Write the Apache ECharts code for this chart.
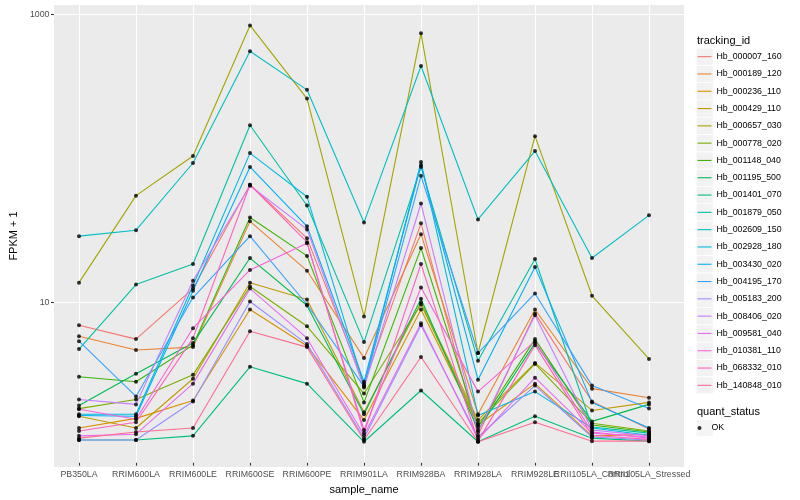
<!DOCTYPE html>
<html><head><meta charset="utf-8">
<script src="https://cdn.jsdelivr.net/npm/echarts@6/dist/echarts.min.js"></script>
<style>html,body{margin:0;padding:0;background:#fff}#c{width:800px;height:500px}</style>
</head><body><div id="c"></div>
<script>
// ---- data ----
const categories = ['PB350LA','RRIM600LA','RRIM600LE','RRIM600SE','RRIM600PE','RRIM901LA','RRIM928BA','RRIM928LA','RRIM928LE','RRII105LA_Control','RRII105LA_Stressed'];
const trackingIds = ['Hb_000007_160','Hb_000189_120','Hb_000236_110','Hb_000429_110','Hb_000657_030','Hb_000778_020','Hb_001148_040','Hb_001195_500','Hb_001401_070','Hb_001879_050','Hb_002609_150','Hb_002928_180','Hb_003430_020','Hb_004195_170','Hb_005183_200','Hb_008406_020','Hb_009581_040','Hb_010381_110','Hb_068332_010','Hb_140848_010'];
const Hb_000007_160 = [6.58, 5.26, 11.9, 63.8, 26.9, 2.56, 34.2, 1.11, 7.97, 1.92, 1.23];
const Hb_000189_120 = [5.51, 4.41, 4.62, 35.3, 15.9, 3.88, 28.7, 1.56, 8.49, 2.36, 2.04];
const Hb_000236_110 = [1.25, 1.46, 1.95, 8.49, 4.70, 1.42, 8.49, 1.31, 2.56, 1.10, 1.13];
const Hb_000429_110 = [1.51, 1.25, 2.77, 13.1, 9.97, 1.61, 9.50, 1.42, 3.58, 1.66, 1.89];
const Hb_000657_030 = [13.1, 53.5, 101.5, 839, 257, 7.59, 738, 4.20, 140, 10.6, 3.82];
const Hb_000778_020 = [1.71, 1.98, 2.95, 12.3, 6.47, 2.18, 9.20, 1.35, 3.52, 1.35, 1.19];
const Hb_001148_040 = [2.86, 2.64, 4.77, 37.6, 20.2, 1.89, 22.9, 1.27, 5.26, 1.31, 1.17];
const Hb_001195_500 = [1.80, 3.00, 4.93, 19.5, 9.06, 1.56, 10.1, 1.21, 4.93, 1.39, 1.83];
const Hb_001401_070 = [1.03, 1.03, 1.10, 3.36, 2.56, 1.00, 2.29, 1.00, 1.51, 1.06, 1.01];
const Hb_001879_050 = [4.48, 12.7, 17.7, 167, 45.6, 5.01, 85.1, 3.70, 19.2, 1.27, 1.15];
const Hb_002609_150 = [27.8, 30.6, 90.7, 553, 296, 34.7, 435, 36.4, 110, 19.5, 38.9];
const Hb_002928_180 = [1.56, 1.56, 12.5, 106.4, 52.6, 2.48, 92.2, 1.53, 2.25, 1.25, 1.11];
const Hb_003430_020 = [1.53, 1.51, 11.5, 85.1, 32.6, 2.64, 87.8, 2.73, 16.9, 1.89, 1.25];
const Hb_004195_170 = [5.09, 2.08, 10.3, 27.8, 9.20, 2.44, 73.7, 4.20, 11.0, 2.48, 1.71];
const Hb_005183_200 = [1.03, 1.03, 1.92, 9.65, 4.85, 1.06, 6.58, 1.08, 2.48, 1.08, 1.03];
const Hb_008406_020 = [1.98, 1.83, 13.5, 62.8, 31.0, 2.40, 47.1, 1.17, 7.72, 1.21, 1.10];
const Hb_009581_040 = [1.10, 1.13, 2.56, 11.9, 5.34, 1.11, 6.79, 1.04, 2.82, 1.15, 1.08];
const Hb_010381_110 = [1.69, 1.44, 6.27, 16.1, 24.8, 1.21, 12.1, 2.25, 5.09, 1.17, 1.06];
const Hb_068332_010 = [1.19, 1.37, 5.34, 63.8, 25.2, 1.15, 17.7, 1.01, 4.77, 1.11, 1.04];
const Hb_140848_010 = [1.06, 1.17, 1.25, 5.97, 4.62, 1.03, 3.94, 1.00, 1.37, 1.01, 1.01];
const yTickValues = [10, 1000];
const yMin = 0.714, yMax = 1167;
const quantStatus = 'OK';

const seriesValues = [Hb_000007_160, Hb_000189_120, Hb_000236_110, Hb_000429_110, Hb_000657_030, Hb_000778_020, Hb_001148_040, Hb_001195_500, Hb_001401_070, Hb_001879_050, Hb_002609_150, Hb_002928_180, Hb_003430_020, Hb_004195_170, Hb_005183_200, Hb_008406_020, Hb_009581_040, Hb_010381_110, Hb_068332_010, Hb_140848_010];

// ---- style ----
const palette = ['#F8766D','#EA8331','#D89000','#C09B00','#A3A500','#7CAE00','#39B600','#00BB4E','#00BF7D','#00C1A3','#00BFC4','#00BAE0','#00B0F6','#35A2FF','#9590FF','#C77CFF','#E76BF3','#FA62DB','#FF62BC','#FF6C91'];
const font = '"Liberation Sans", Arial, Helvetica, sans-serif';
const panelTop = 5, panelHeight = 462;

const lineSeries = trackingIds.map((id, i) => ({
  name: id, type: 'line', xAxisIndex: 1, yAxisIndex: 1,
  data: seriesValues[i], symbol: 'none', silent: true, z: 2,
  lineStyle: { color: palette[i], width: 1.1 }, itemStyle: { color: palette[i] }
}));
const pointData = [];
seriesValues.forEach(vals => vals.forEach((v, j) => pointData.push([j, v])));

const option = {
  animation: false,
  backgroundColor: '#fff',
  textStyle: { fontFamily: font },
  title: [
    { text: 'tracking_id', left: 697, top: 35, padding: 0, textStyle: { fontSize: 11, fontWeight: 'normal', color: '#000', fontFamily: font } },
    { text: 'quant_status', left: 697, top: 406, padding: 0, textStyle: { fontSize: 11, fontWeight: 'normal', color: '#000', fontFamily: font } }
  ],
  grid: [
    { left: 45, width: 639, top: panelTop, height: panelHeight, show: true, backgroundColor: '#EBEBEB', borderWidth: 0 },
    { left: 50.5, width: 627, top: panelTop, height: panelHeight, show: false }
  ],
  xAxis: [
    { gridIndex: 0, type: 'value', min: 0, max: 1, show: false },
    { gridIndex: 1, type: 'category', data: categories, boundaryGap: true,
      axisLine: { show: false },
      axisTick: { show: true, alignWithLabel: true, length: 3, lineStyle: { color: '#333333', width: 1.07 } },
      axisLabel: { interval: 0, fontSize: 8.8, color: '#4D4D4D', margin: 7.5, fontFamily: font, hideOverlap: false },
      splitLine: { show: false },
      name: 'sample_name', nameLocation: 'middle', nameGap: 15,
      nameTextStyle: { fontSize: 11, color: '#000', fontFamily: font } }
  ],
  yAxis: [
    { gridIndex: 0, type: 'log', logBase: 10, min: yMin, max: yMax,
      axisLine: { show: false },
      axisTick: { show: true, length: 3, customValues: yTickValues, lineStyle: { color: '#333333', width: 1.07 } },
      axisLabel: { fontSize: 8.8, color: '#4D4D4D', margin: 4.5, fontFamily: font, customValues: yTickValues,
        formatter: v => (Math.abs(v - 10) < 1e-6 || Math.abs(v - 1000) < 1e-6) ? String(Math.round(v)) : '' },
      splitLine: { show: true, showMinLine: false, showMaxLine: false, lineStyle: { color: '#FFFFFF', width: 0.55 } },
      name: 'FPKM + 1', nameLocation: 'middle', nameGap: 26, nameRotate: 90,
      nameTextStyle: { fontSize: 11, color: '#000', fontFamily: font } },
    { gridIndex: 1, type: 'log', logBase: 10, min: yMin, max: yMax, show: false, splitLine: { show: false } }
  ],
  legend: [
    { orient: 'vertical', left: 696.5, top: 48.5, padding: 0, itemGap: 1, itemWidth: 16.3, itemHeight: 16.3,
      icon: 'rect', selectedMode: false, formatter: () => '',
      itemStyle: { borderWidth: 0 },
      textStyle: { fontSize: 8.8, lineHeight: 16.3 },
      data: trackingIds.map(n => ({ name: n, itemStyle: { color: '#F2F2F2', borderWidth: 0 } })) },
    { orient: 'vertical', left: 697.5, top: 48.5, padding: 0, itemGap: 1, itemWidth: 14, itemHeight: 1.1,
      icon: 'rect', selectedMode: false, itemStyle: { borderWidth: 0 },
      textStyle: { fontSize: 8.8, lineHeight: 16.3, color: '#000', fontFamily: font },
      data: trackingIds },
    { orient: 'vertical', left: 696.5, top: 419.9, padding: 0, itemWidth: 16.3, itemHeight: 16.3,
      icon: 'rect', selectedMode: false, formatter: () => '',
      textStyle: { fontSize: 8.8, lineHeight: 16.3 },
      data: [{ name: quantStatus, itemStyle: { color: '#F2F2F2', borderWidth: 0 } }] },
    { orient: 'vertical', left: 697.5, top: 419.9, padding: 0, itemWidth: 14, itemHeight: 4,
      icon: 'circle', selectedMode: false, itemStyle: { borderWidth: 0 },
      textStyle: { fontSize: 8.8, lineHeight: 16.3, color: '#000', fontFamily: font },
      data: [quantStatus] }
  ],
  series: [
    { type: 'line', xAxisIndex: 0, yAxisIndex: 0, data: [], silent: true, z: 1,
      markLine: { silent: true, z: 1, symbol: 'none', label: { show: false }, animation: false,
        lineStyle: { color: '#FFFFFF', width: 1.07, type: 'solid' }, emphasis: { disabled: true },
        data: yTickValues.map(v => ({ yAxis: v })) } },
    { type: 'line', xAxisIndex: 1, yAxisIndex: 1, data: [], silent: true, z: 1,
      markLine: { silent: true, z: 1, symbol: 'none', label: { show: false }, animation: false,
        lineStyle: { color: '#FFFFFF', width: 1.07, type: 'solid' }, emphasis: { disabled: true },
        data: categories.map(c => ({ xAxis: c })) } },
    ...lineSeries,
    { name: quantStatus, type: 'scatter', xAxisIndex: 1, yAxisIndex: 1, data: pointData,
      symbol: 'circle', symbolSize: 4, itemStyle: { color: '#000000' }, silent: true, z: 3 }
  ]
};
const chart = echarts.init(document.getElementById('c'), null, { renderer: 'canvas' });
chart.setOption(option);
</script>
</body></html>
